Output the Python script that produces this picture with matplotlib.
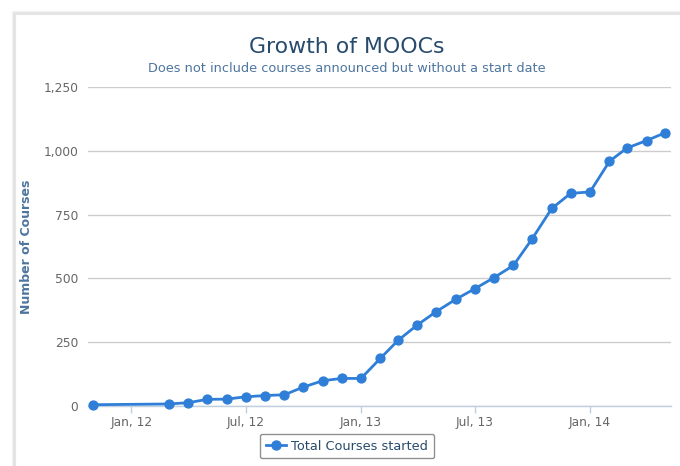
import matplotlib
matplotlib.use("Agg")
import matplotlib.pyplot as plt
from matplotlib.patches import Rectangle
from matplotlib.lines import Line2D
import pandas as pd

# ---- data ----
months = ["2011-11-01", "2012-03-01", "2012-04-01", "2012-05-01", "2012-06-01",
          "2012-07-01", "2012-08-01", "2012-09-01", "2012-10-01", "2012-11-01",
          "2012-12-01", "2013-01-01", "2013-02-01", "2013-03-01", "2013-04-01",
          "2013-05-01", "2013-06-01", "2013-07-01", "2013-08-01", "2013-09-01",
          "2013-10-01", "2013-11-01", "2013-12-01", "2014-01-01", "2014-02-01",
          "2014-03-01", "2014-04-01", "2014-05-01"]
total_courses = [5, 8, 13, 26, 27, 36, 41, 44, 74, 99,
                 108, 108, 187, 257, 318, 370, 418, 459, 503, 551,
                 656, 774, 833, 839, 959, 1011, 1040, 1071]
y_ticks = [0, 250, 500, 750, 1000, 1250]
x_tick_dates = ["2012-01-01", "2012-07-01", "2013-01-01", "2013-07-01", "2014-01-01"]
x_tick_labels = ["Jan, 12", "Jul, 12", "Jan, 13", "Jul, 13", "Jan, 14"]

title = "Growth of MOOCs"
subtitle = "Does not include courses announced but without a start date"
y_title = "Number of Courses"
series_name = "Total Courses started"

W, H = 680, 466
fig = plt.figure(figsize=(W / 100, H / 100), dpi=100)
fig.patch.set_facecolor("white")

# chart panel with soft shadow
for i, a in enumerate([0.10, 0.07, 0.04]):
    fig.patches.append(Rectangle(((15 - i - 1) / W, 0), 1, (H - 14 + i + 1) / H,
                                 transform=fig.transFigure, facecolor="none",
                                 edgecolor=(0, 0, 0, a), linewidth=1.0, zorder=-2))
fig.patches.append(Rectangle((15 / W, 0), 1, (H - 14) / H, transform=fig.transFigure,
                             facecolor="white", edgecolor="#e6e6e6", linewidth=0.8, zorder=-1))

left, right, top, bottom = 88, 671, 87, 406
ax = fig.add_axes([left / W, (H - bottom) / H, (right - left) / W, (bottom - top) / H])
ax.set_zorder(2)
ax.set_facecolor("none")

dates = pd.to_datetime(months)
series_color = "#2f7ed8"
ax.plot(dates, total_courses, color=series_color, linewidth=2, marker="o",
        markersize=6.4, markerfacecolor=series_color, markeredgecolor=series_color,
        clip_on=False, zorder=3)

ax.set_ylim(0, 1250)
ax.set_yticks(y_ticks)
ax.set_yticklabels([f"{v:,}" for v in y_ticks])
ax.set_xlim(pd.Timestamp("2011-10-24"), pd.Timestamp("2014-05-10"))
ax.set_xticks(pd.to_datetime(x_tick_dates))
ax.set_xticklabels(x_tick_labels)

ax.grid(axis="y", color="#cccccc", linewidth=1)
ax.set_axisbelow(True)
for s in ["top", "right", "left"]:
    ax.spines[s].set_visible(False)
ax.spines["bottom"].set_color("#c0d0e0")
ax.spines["bottom"].set_linewidth(1)
ax.tick_params(axis="y", length=0, pad=7, labelsize=8.8, labelcolor="#666666")
ax.tick_params(axis="x", length=5, width=1, color="#c0d0e0", pad=2,
               labelsize=8.8, labelcolor="#666666")

ax.set_ylabel(y_title, fontsize=9, fontweight="bold", color="#4d759e")
ax.yaxis.set_label_coords((33 - left) / (right - left), 0.5)

fig.text(347 / W, (H - 47) / H, title, ha="center", va="center",
         fontsize=15.8, color="#274b6d")
fig.text(347 / W, (H - 68) / H, subtitle, ha="center", va="center",
         fontsize=9.3, color="#4d759e")

handle = Line2D([], [], color=series_color, linewidth=2, marker="o", markersize=6.5)
leg = fig.legend([handle], [series_name], loc="center",
                 bbox_to_anchor=(347 / W, (H - 446) / H), frameon=True,
                 fancybox=True, fontsize=9.3, handlelength=1.6, handletextpad=0.4,
                 borderpad=0.45, edgecolor="#909090", framealpha=1)
leg.get_frame().set_linewidth(1)
for t in leg.get_texts():
    t.set_color("#274b6d")

fig.savefig("out.png", dpi=100, facecolor="white")
